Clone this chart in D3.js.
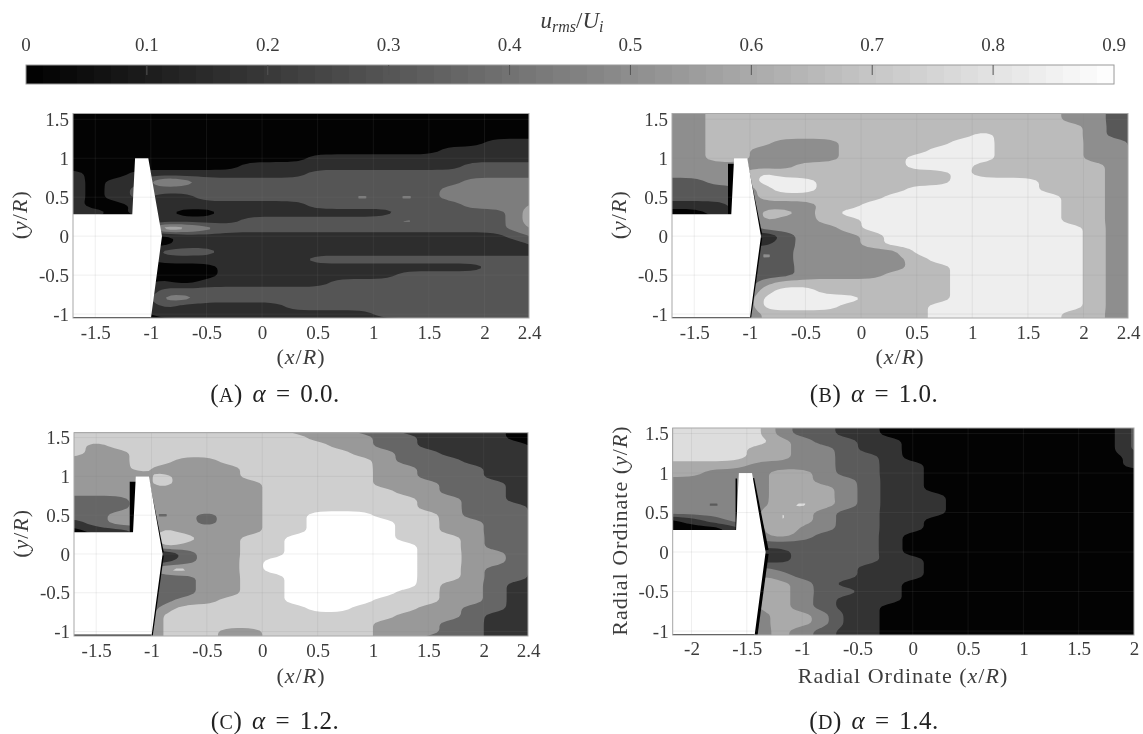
<!DOCTYPE html>
<html>
<head>
<meta charset="utf-8">
<script src="https://cdn.jsdelivr.net/npm/d3@7"></script>
<style>
  body { margin: 0; background: #fff; }
  svg { display: block; filter: blur(0.6px); }
  text { font-family: "Liberation Serif", serif; fill: #3c3c3c; }
  .tick text { font-size: 19px; }
  .axis-label { font-size: 22px; letter-spacing: 1px; }
  .caption { font-size: 25px; fill: #222; letter-spacing: 0.5px; word-spacing: 3px; }
  .axis path, .axis line { display: none; }
</style>
</head>
<body>
<svg width="1143" height="734"></svg>
<script>
// u_rms/U_i value of each filled band, per panel
const levelsA = [0.01, 0.16, 0.3, 0.44, 0.58, 0.72];
const levelsB = [0.01, 0.16, 0.31, 0.5, 0.66, 0.84];
const levelsC = [0.01, 0.18, 0.36, 0.54, 0.73, 0.9];
const levelsD = [0.01, 0.18, 0.32, 0.47, 0.6, 0.78, 0.9];

const colorbarTicks = [0, 0.1, 0.2, 0.3, 0.4, 0.5, 0.6, 0.7, 0.8, 0.9];
const xTicks = [-1.5, -1, -0.5, 0, 0.5, 1, 1.5, 2, 2.4];
const xTicksD = [-2, -1.5, -1, -0.5, 0, 0.5, 1, 1.5, 2];
const yTicks = [-1, -0.5, 0, 0.5, 1, 1.5];

// grid rows run from y = 1.6 down to y = -1.1 in steps of 0.1, columns in steps of 0.2
const gridStepX = 0.2;
const gridStepY = 0.1;
const gridTop = 1.6;

// band index, x from -1.7
const gridA = [
  [0,0,0,0,0,0,0,0,0,0,0,0,0,0,0,0,0,0,0,0,0,0],
  [0,0,0,0,0,0,0,0,0,0,0,0,0,0,0,0,0,0,0,0,0,0],
  [0,0,0,0,0,0,0,0,0,0,0,0,0,0,0,0,0,0,0,0,0,0],
  [0,0,0,0,0,0,0,0,0,0,0,0,0,0,0,0,0,0,0,0,0,0],
  [0,0,0,0,0,0,0,0,0,0,0,0,0,0,0,0,0,0,0,1,1,1],
  [0,0,0,0,0,0,0,0,0,0,0,0,0,0,0,0,0,1,1,1,1,1],
  [0,0,0,0,0,0,0,0,0,0,0,1,1,1,1,1,1,1,1,1,1,1],
  [0,0,0,0,0,0,0,0,1,1,1,1,1,1,1,1,1,1,2,2,2,2],
  [1,0,0,1,1,1,1,1,1,1,1,2,2,2,2,2,2,2,2,2,2,2],
  [1,0,1,1,4,3,2,2,2,2,2,2,2,2,2,2,2,2,3,3,3,3],
  [1,0,1,2,2,2,2,2,2,2,2,2,2,2,2,2,2,3,3,3,3,3],
  [1,0,1,2,1,1,2,2,2,2,2,2,2,3,2,3,2,3,3,3,3,3],
  [1,0,0,1,1,1,1,1,1,1,1,2,2,2,2,2,2,2,3,3,3,4],
  [1,1,0,1,1,0,0,1,1,1,1,1,1,1,1,2,2,2,2,2,3,5],
  [0,0,0,0,1,1,1,1,2,2,2,2,2,2,2,3,2,2,2,2,3,5],
  [0,0,0,0,5,4,3,2,2,2,2,2,2,2,2,2,2,2,2,2,3,4],
  [0,0,0,0,0,1,1,1,1,1,1,1,1,1,1,1,1,1,1,1,2,3],
  [0,0,0,0,0,1,1,1,1,1,1,1,1,1,1,1,1,1,1,1,1,2],
  [0,0,0,0,2,2,2,1,1,1,1,1,1,1,1,1,1,1,1,1,1,1],
  [0,0,0,0,1,1,1,1,1,1,1,2,2,2,2,2,2,2,2,2,2,2],
  [0,0,0,0,0,0,0,1,1,1,1,1,1,1,1,1,1,1,1,2,2,2],
  [0,0,0,0,0,0,0,1,1,1,1,1,1,1,1,2,2,2,2,2,2,2],
  [0,0,0,0,1,0,1,1,1,1,1,1,2,2,2,2,2,2,2,2,2,2],
  [0,0,0,0,2,2,2,2,2,2,2,2,2,2,2,2,2,2,2,2,2,2],
  [0,0,0,0,3,3,2,2,2,2,2,2,2,2,2,2,2,2,2,2,2,2],
  [0,0,0,0,2,1,1,1,1,1,2,2,2,2,2,2,2,2,2,2,2,2],
  [0,0,0,0,1,1,1,1,1,1,1,1,1,1,2,2,2,2,2,2,2,2],
  [0,0,0,0,0,0,0,0,0,1,1,1,1,1,1,1,1,2,2,2,2,2]
];

const gridB = [
  [3,3,4,4,4,4,4,4,4,4,4,4,4,4,4,4,4,4,3,3,2,2],
  [3,3,4,4,4,4,4,4,4,4,4,4,4,4,4,4,4,4,3,3,2,2],
  [3,3,4,4,4,4,4,4,4,4,4,4,4,4,4,4,4,4,4,3,2,2],
  [3,3,4,4,4,4,4,4,4,4,4,4,4,4,5,4,4,4,4,3,2,2],
  [3,3,4,4,4,3,3,3,4,4,4,4,4,5,5,4,4,4,4,3,3,2],
  [3,3,4,4,3,3,3,3,4,4,4,4,5,5,5,4,4,4,4,3,3,2],
  [3,3,4,4,3,3,3,3,4,4,4,5,5,5,5,4,4,4,4,3,3,2],
  [3,3,3,3,3,3,4,4,4,4,4,5,5,5,4,4,4,4,4,4,3,2],
  [3,3,3,3,5,4,4,4,4,4,4,4,4,5,4,4,4,4,4,4,3,2],
  [2,2,3,3,5,5,5,4,4,4,4,4,4,5,5,5,5,4,4,4,3,2],
  [2,2,2,2,4,5,5,4,4,4,4,5,5,5,5,5,5,4,4,4,3,2],
  [2,2,2,2,4,4,4,4,4,4,5,5,5,5,5,5,5,5,4,4,3,2],
  [1,1,1,2,3,3,3,4,4,5,5,5,5,5,5,5,5,5,4,4,3,2],
  [0,0,1,1,4,4,3,4,5,5,5,5,5,5,5,5,5,5,4,4,3,2],
  [0,0,0,1,4,3,3,4,4,5,5,5,5,5,5,5,5,5,4,4,3,2],
  [0,0,0,1,3,3,3,3,4,5,5,5,5,5,5,5,5,5,5,4,3,2],
  [0,0,0,1,0,2,3,3,3,4,5,5,5,5,5,5,5,5,5,4,3,2],
  [0,0,0,1,1,2,3,3,3,4,5,5,5,5,5,5,5,5,5,4,3,2],
  [0,0,0,1,3,2,3,3,3,3,3,5,5,5,5,5,5,5,5,4,3,2],
  [0,0,0,1,3,2,3,3,3,3,3,4,5,5,5,5,5,5,5,4,3,2],
  [0,0,0,1,2,2,3,3,3,3,3,4,4,5,5,5,5,5,5,4,3,2],
  [0,0,0,1,2,2,3,3,3,3,4,4,4,5,5,5,5,5,5,4,3,2],
  [0,0,0,1,3,4,4,4,4,4,4,4,4,5,5,5,5,5,5,4,3,2],
  [0,0,0,1,4,5,5,4,4,4,4,4,4,5,5,5,5,5,5,4,3,2],
  [0,0,0,1,5,5,5,5,5,4,4,4,4,5,5,5,5,5,5,4,3,2],
  [0,0,0,1,5,5,5,5,4,4,4,4,5,5,5,5,5,5,5,4,3,2],
  [0,0,0,1,4,4,4,4,4,4,4,4,5,5,5,5,5,5,4,4,3,2],
  [0,0,0,1,4,4,4,4,4,4,4,4,5,5,5,5,5,5,4,4,3,2]
];

const gridC = [
  [4,4,4,4,4,4,4,4,4,4,3,3,3,2,2,1,1,1,1,1,0,0],
  [4,4,4,4,4,4,4,4,4,4,4,3,3,3,2,2,1,1,1,1,0,0],
  [4,3,4,4,4,4,4,4,4,4,4,4,3,3,2,2,1,1,1,1,1,0],
  [4,3,3,4,4,4,4,4,4,4,4,4,4,3,3,2,2,1,1,1,1,1],
  [3,3,3,4,4,3,3,4,4,4,4,4,4,4,3,2,2,2,1,1,1,1],
  [3,3,3,4,3,3,3,3,4,4,4,4,4,4,3,3,2,2,2,1,1,1],
  [3,3,3,3,4,3,3,3,4,4,4,4,4,4,3,3,2,2,2,1,1,1],
  [3,3,3,3,4,3,3,3,3,4,4,4,4,4,3,3,3,2,2,2,1,1],
  [3,3,3,3,3,3,3,3,3,4,4,4,4,4,4,3,3,2,2,2,1,1],
  [2,2,2,3,3,3,3,3,3,4,4,4,4,4,4,4,3,3,2,2,1,1],
  [2,2,2,3,3,3,3,3,3,4,4,4,4,4,4,4,3,3,2,2,2,1],
  [2,2,3,3,2,3,2,3,3,4,4,5,5,5,4,4,4,3,2,2,2,1],
  [1,2,3,3,3,3,2,3,3,4,4,5,5,5,5,4,4,3,3,2,2,2],
  [0,1,1,2,4,3,3,3,3,4,4,5,5,5,5,4,4,3,3,2,2,2],
  [0,0,0,1,5,4,3,3,4,4,5,5,5,5,5,4,4,4,3,2,2,2],
  [0,0,0,1,4,3,3,3,4,4,5,5,5,5,5,5,4,4,3,2,2,2],
  [0,0,0,1,0,2,3,3,4,4,5,5,5,5,5,5,4,4,3,3,2,2],
  [0,0,0,1,1,2,3,3,4,5,5,5,5,5,5,5,4,4,3,3,2,2],
  [0,0,0,1,4,4,3,3,4,5,5,5,5,5,5,5,4,4,3,2,2,1],
  [0,0,0,1,2,2,3,3,4,4,5,5,5,5,5,5,4,4,3,2,2,1],
  [0,0,0,1,2,2,3,3,4,4,5,5,5,5,5,5,4,3,3,2,1,1],
  [0,0,0,1,2,2,3,3,4,4,5,5,5,5,5,4,4,3,3,2,1,1],
  [0,0,0,1,2,3,3,4,4,4,5,5,5,5,4,4,4,3,3,2,1,1],
  [0,0,0,1,3,4,4,4,4,4,4,5,5,4,4,4,3,3,2,2,1,1],
  [0,0,0,1,4,4,4,4,4,4,4,4,4,4,4,3,3,3,2,1,1,1],
  [0,0,0,1,4,4,4,4,4,4,4,4,4,4,3,3,3,2,2,1,1,1],
  [0,0,0,1,4,4,4,3,3,4,4,4,4,4,3,3,3,2,2,1,1,1],
  [0,0,0,1,4,4,4,3,3,4,4,4,4,4,3,3,2,2,2,1,1,1]
];

// panel D starts at x = -2.2
const gridD = [
  [5,5,5,5,5,3,2,2,1,1,0,0,0,0,0,0,0,0,0,0,0,2],
  [5,5,5,5,5,3,2,2,1,1,0,0,0,0,0,0,0,0,0,0,0,2],
  [5,5,5,5,5,4,3,2,2,1,1,0,0,0,0,0,0,0,0,0,0,2],
  [5,5,5,5,4,4,3,3,2,1,1,0,0,0,0,0,0,0,0,0,0,2],
  [5,5,5,5,4,4,3,3,2,2,1,0,0,0,0,0,0,0,0,0,0,1],
  [4,4,4,4,3,3,3,3,2,2,1,1,0,0,0,0,0,0,0,0,0,1],
  [4,4,3,3,3,4,4,3,2,2,1,1,0,0,0,0,0,0,0,0,0,0],
  [3,3,3,3,3,4,4,3,3,2,1,1,0,0,0,0,0,0,0,0,0,0],
  [3,3,3,3,3,4,4,4,3,2,1,1,0,0,0,0,0,0,0,0,0,0],
  [3,3,3,3,3,4,4,4,3,2,1,1,1,0,0,0,0,0,0,0,0,0],
  [3,3,2,3,3,4,5,4,3,2,1,1,1,0,0,0,0,0,0,0,0,0],
  [3,3,3,3,3,5,4,3,2,2,1,1,1,0,0,0,0,0,0,0,0,0],
  [0,1,2,3,3,5,4,3,2,2,1,1,0,0,0,0,0,0,0,0,0,0],
  [0,0,0,1,3,5,3,3,2,2,1,1,0,0,0,0,0,0,0,0,0,0],
  [0,0,0,1,3,4,3,2,2,2,1,0,0,0,0,0,0,0,0,0,0,0],
  [0,0,0,1,2,2,2,2,2,2,1,0,0,0,0,0,0,0,0,0,0,0],
  [0,0,0,1,1,1,2,2,2,2,1,0,0,0,0,0,0,0,0,0,0,0],
  [0,0,0,1,1,1,2,2,2,2,1,1,0,0,0,0,0,0,0,0,0,0],
  [0,0,0,1,3,2,2,2,2,1,1,1,0,0,0,0,0,0,0,0,0,0],
  [0,0,0,1,4,3,2,2,2,1,1,1,0,0,0,0,0,0,0,0,0,0],
  [0,0,0,1,4,4,3,2,1,1,1,0,0,0,0,0,0,0,0,0,0,0],
  [0,0,0,1,4,4,3,2,2,1,1,0,0,0,0,0,0,0,0,0,0,0],
  [0,0,0,1,4,4,3,2,1,1,1,0,0,0,0,0,0,0,0,0,0,0],
  [0,0,0,1,4,4,3,2,1,1,0,0,0,0,0,0,0,0,0,0,0,0],
  [0,0,0,1,3,4,4,3,1,1,0,0,0,0,0,0,0,0,0,0,0,0],
  [0,0,0,1,3,4,4,3,1,1,0,0,0,0,0,0,0,0,0,0,0,0],
  [0,0,0,1,3,4,3,2,1,1,0,0,0,0,0,0,0,0,0,0,0,0],
  [0,0,0,1,3,4,3,2,1,1,0,0,0,0,0,0,0,0,0,0,0,0]
];

// outline of the model in (x/R, y/R), panel D is shifted by noseShift
const bodyOutline = [[-1.8,0.28],[-1.167,0.28],[-1.142,1],[-1.023,1],[-0.9,0],[-1,-1.06],[-1.8,-1.06]];
const noseUpper = [[-1.03,0.93],[-0.9,0.02]];
const noseLower = [[-0.9,-0.02],[-1,-1.05]];
const rearWall = [[-1.165,0.93],[-1.165,0.28]];
const bottomWall = [[-1.8,-1.05],[-1,-1.05]];

const gray = d3.scaleLinear().domain([0, 0.9]).range(["#000", "#fff"]);
const svg = d3.select("svg");
const upsample = 4;

drawColorbar();

drawPanel({ grid: gridA, levels: levelsA, gridLeft: -1.7, xDomain: [-1.7, 2.4], xRange: [73, 529], yDomain: [-1.05, 1.574], yRange: [318, 113.5], ticks: xTicks, shift: 0, rear: 0, nose: 0, xLabelY: 358, yLabel: "(", caption: ["A", "0.0"], captionX: 275, captionY: 402, tickGap: 8 });
drawPanel({ grid: gridB, levels: levelsB, gridLeft: -1.7, xDomain: [-1.7, 2.4], xRange: [672, 1128], yDomain: [-1.05, 1.574], yRange: [318, 113.5], ticks: xTicks, shift: 0, rear: 7, nose: 2.5, xLabelY: 358, yLabel: "(", caption: ["B", "1.0"], captionX: 874, captionY: 402, tickGap: 8 });
drawPanel({ grid: gridC, levels: levelsC, gridLeft: -1.7, xDomain: [-1.7, 2.4], xRange: [74, 528], yDomain: [-1.057, 1.563], yRange: [636, 432.7], ticks: xTicks, shift: 0, rear: 7, nose: 2.5, xLabelY: 677, yLabel: "(", caption: ["C", "1.2"], captionX: 275, captionY: 729, tickGap: 8 });
drawPanel({ grid: gridD, levels: levelsD, gridLeft: -2.2, xDomain: [-2.17, 2], xRange: [672.7, 1134], yDomain: [-1.05, 1.57], yRange: [635, 428], ticks: xTicksD, shift: -0.43, rear: 1.5, nose: 6, xLabelY: 677, yLabel: "Radial Ordinate (", xPrefix: "Radial Ordinate ", caption: ["D", "1.4"], captionX: 874, captionY: 729, tickGap: 7 });

function drawColorbar() {
  const x = d3.scaleLinear().domain([0, 0.9]).range([26, 1114]);
  const steps = d3.range(0, 64).map(i => i * 0.9 / 64);
  const g = svg.append("g");

  g.selectAll("rect")
    .data(steps)
    .enter()
    .append("rect")
    .attr("x", d => x(d))
    .attr("y", 65)
    .attr("width", 1088 / 64 + 0.5)
    .attr("height", 19)
    .attr("fill", d => gray(d + 0.45 / 64));

  g.append("rect")
    .attr("x", 26).attr("y", 65).attr("width", 1088).attr("height", 19)
    .attr("fill", "none").attr("stroke", "#9a9a9a");

  g.selectAll("line")
    .data(colorbarTicks.slice(1, -1))
    .enter()
    .append("line")
    .attr("x1", d => x(d)).attr("x2", d => x(d))
    .attr("y1", 65).attr("y2", 75)
    .attr("stroke", "#555");

  g.selectAll("text.tick-label")
    .data(colorbarTicks)
    .enter()
    .append("text")
    .attr("class", "tick-label")
    .attr("x", d => x(d))
    .attr("y", 51)
    .attr("text-anchor", "middle")
    .style("font-size", "19px")
    .text(d => d);

  const title = svg.append("text")
    .attr("x", 572).attr("y", 28).attr("text-anchor", "middle")
    .style("font-size", "23px");
  title.append("tspan").attr("font-style", "italic").text("u");
  title.append("tspan").attr("font-style", "italic").attr("dy", 4).style("font-size", "16px").text("rms");
  title.append("tspan").attr("dy", -4).text("/");
  title.append("tspan").attr("font-style", "italic").text("U");
  title.append("tspan").attr("font-style", "italic").attr("dy", 4).style("font-size", "16px").text("i");
}

// Repeat each read cell on a finer lattice and soften it, so the contour edges
// do not follow the cell staircase
function softenGrid(grid) {
  const width = grid[0].length * upsample;
  const height = grid.length * upsample;
  const data = new Float64Array(width * height);
  for (let j = 0; j < height; j++) {
    for (let i = 0; i < width; i++) {
      data[j * width + i] = grid[Math.floor(j / upsample)][Math.floor(i / upsample)];
    }
  }
  d3.blur2({ data, width, height }, 1.5, 1);
  return { data, width, height };
}

function drawPanel(p) {
  const xScale = d3.scaleLinear().domain(p.xDomain).range(p.xRange);
  const yScale = d3.scaleLinear().domain(p.yDomain).range(p.yRange);
  const clipId = "clip" + p.caption[0];

  svg.append("clipPath").attr("id", clipId)
    .append("rect")
    .attr("x", p.xRange[0]).attr("y", p.yRange[1])
    .attr("width", p.xRange[1] - p.xRange[0])
    .attr("height", p.yRange[0] - p.yRange[1]);

  const plot = svg.append("g").attr("clip-path", `url(#${clipId})`);

  plot.append("rect")
    .attr("x", p.xRange[0]).attr("y", p.yRange[1])
    .attr("width", p.xRange[1] - p.xRange[0])
    .attr("height", p.yRange[0] - p.yRange[1])
    .attr("fill", gray(p.levels[0]));

  // Filled contours, d3.contours puts cell i at i + 0.5
  const soft = softenGrid(p.grid);
  const thresholds = p.levels.slice(1).map((d, i) => i + 0.5);
  const contours = d3.contours().size([soft.width, soft.height]).thresholds(thresholds)(Array.from(soft.data));
  const project = d3.geoTransform({
    point(cx, cy) {
      this.stream.point(
        xScale(p.gridLeft + (cx / upsample - 0.5) * gridStepX),
        yScale(gridTop - (cy / upsample - 0.5) * gridStepY)
      );
    }
  });
  const path = d3.geoPath(project);

  plot.selectAll("path.band")
    .data(contours)
    .enter()
    .append("path")
    .attr("class", "band")
    .attr("d", path)
    .attr("fill", (d, i) => gray(p.levels[i + 1]));

  // Dark strips measured right against the model
  const line = d3.line().x(d => xScale(d[0] + p.shift)).y(d => yScale(d[1]));
  if (p.rear) plot.append("path").attr("d", line(rearWall)).attr("stroke", "#000").attr("stroke-width", p.rear).attr("fill", "none");
  if (p.nose) {
    plot.append("path").attr("d", line(noseUpper)).attr("stroke", "#000").attr("stroke-width", p.nose).attr("fill", "none");
    plot.append("path").attr("d", line(noseLower)).attr("stroke", "#000").attr("stroke-width", p.nose).attr("fill", "none");
  }

  plot.append("path")
    .attr("d", line(bodyOutline) + "Z")
    .attr("fill", "#fff");

  // Grid lines over everything
  plot.selectAll("line.gx")
    .data(p.ticks)
    .enter()
    .append("line")
    .attr("class", "gx")
    .attr("x1", d => xScale(d)).attr("x2", d => xScale(d))
    .attr("y1", p.yRange[0]).attr("y2", p.yRange[1])
    .attr("stroke", "#808080").attr("stroke-opacity", 0.13);

  plot.selectAll("line.gy")
    .data(yTicks)
    .enter()
    .append("line")
    .attr("class", "gy")
    .attr("x1", p.xRange[0]).attr("x2", p.xRange[1])
    .attr("y1", d => yScale(d)).attr("y2", d => yScale(d))
    .attr("stroke", "#808080").attr("stroke-opacity", 0.13);

  plot.append("path")
    .attr("d", line(bottomWall))
    .attr("stroke", "#222").attr("stroke-width", 2).attr("fill", "none");

  svg.append("rect")
    .attr("x", p.xRange[0]).attr("y", p.yRange[1])
    .attr("width", p.xRange[1] - p.xRange[0])
    .attr("height", p.yRange[0] - p.yRange[1])
    .attr("fill", "none").attr("stroke", "#a8a8a8");

  // Axes
  const xAxis = d3.axisBottom(xScale).tickValues(p.ticks).tickSize(0).tickPadding(p.tickGap).tickFormat(d => d);
  const yAxis = d3.axisLeft(yScale).tickValues(yTicks).tickSize(0).tickPadding(4).tickFormat(d => d);

  svg.append("g").attr("class", "axis")
    .attr("transform", `translate(0,${p.yRange[0]})`)
    .call(xAxis);

  svg.append("g").attr("class", "axis")
    .attr("transform", `translate(${p.xRange[0]},0)`)
    .call(yAxis);

  svg.selectAll(".axis text").attr("font-family", null);

  // Axis labels
  const xMid = p.xPrefix ? 903 : (p.xRange[0] + p.xRange[1]) / 2;
  const xLabel = svg.append("text")
    .attr("class", "axis-label")
    .attr("x", xMid)
    .attr("y", p.xLabelY + 6)
    .attr("text-anchor", "middle");
  mathLabel(xLabel, (p.xPrefix || "") + "(", "x");

  const yMid = (p.yRange[0] + p.yRange[1]) / 2 - 1;
  const yLabel = svg.append("text")
    .attr("class", "axis-label")
    .attr("text-anchor", "middle")
    .attr("transform", `translate(${p.xRange[0] - 46},${yMid}) rotate(-90)`);
  mathLabel(yLabel, p.yLabel, "y");

  // Caption
  const cap = svg.append("text")
    .attr("class", "caption")
    .attr("x", p.captionX)
    .attr("y", p.captionY)
    .attr("text-anchor", "middle");
  cap.append("tspan").text("(");
  cap.append("tspan").style("font-size", "20px").text(p.caption[0]);
  cap.append("tspan").text(") ");
  cap.append("tspan").attr("font-style", "italic").text("α");
  cap.append("tspan").text(" = " + p.caption[1] + ".");
}

function mathLabel(sel, prefix, variable) {
  sel.append("tspan").text(prefix);
  sel.append("tspan").attr("font-style", "italic").text(variable);
  sel.append("tspan").text("/");
  sel.append("tspan").attr("font-style", "italic").text("R");
  sel.append("tspan").text(")");
}
</script>
</body>
</html>
